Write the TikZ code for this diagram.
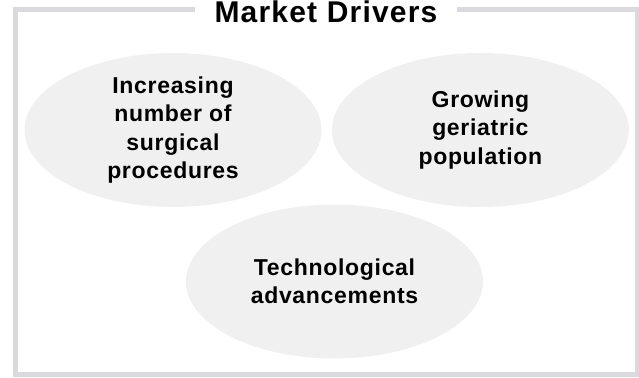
\documentclass[tikz,border=0pt]{standalone}
\usepackage{fontspec}
\setmainfont{Liberation Sans}
\newfontfamily\driverfont[LetterSpace=3]{Liberation Sans}
\newfontfamily\headingfont[LetterSpace=4]{Liberation Sans}
\usetikzlibrary{positioning, shapes}
\definecolor{framegray}{HTML}{D9D9DE}
\definecolor{bubblegray}{HTML}{F0F0F0}
\tikzset{
        x=1pt, y=-1pt, % one unit is one pixel of the page, y runs down
        driver/.style={ellipse, fill=bubblegray, inner sep=0pt, minimum width=297pt, minimum height=154pt, align=center, font=\driverfont\bfseries\fontsize{23}{28.5}\selectfont}, % sets properties for each driver bubble
        heading/.style={fill=white, inner xsep=20pt, inner ysep=2pt, font=\headingfont\bfseries\fontsize{30}{32}\selectfont}, % title cutting the frame
    }
\begin{document}
\begin{tikzpicture}
    \useasboundingbox (0,0) rectangle (639,377);
    \draw[framegray, line width=5pt] (15.5,10) rectangle (637,374.5);
    \node[heading, anchor=base] (title) at (326,23) {Market Drivers};
    \node[driver] (surgery) at (173,130) {Increasing\\number of\\surgical\\procedures};
    \node[driver, right=10pt of surgery] (ageing) {Growing\\geriatric\\population};
    \node[driver] (tech) at (334.5,281.5) {Technological\\advancements};
\end{tikzpicture}
\end{document}
